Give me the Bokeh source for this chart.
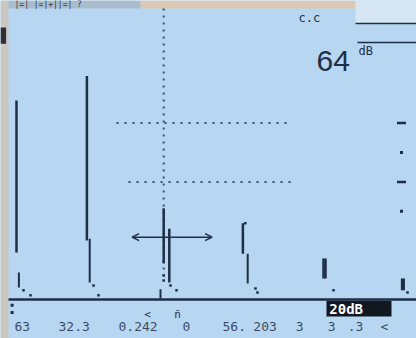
from bokeh.plotting import figure
from bokeh.models import Range1d, Arrow, OpenHead
from bokeh.core.properties import value
from bokeh.embed import file_html
from bokeh.resources import INLINE

BG = "#b6d6f2"
INK = "#1f2e46"
MONO = value("DejaVu Sans Mono")

# ---- data: A-scan (x in % of screen width, amplitude in % screen height)
echo_pos = [2.0, 19.6, 40.2, 58.6, 78.75, 79.25, 98.4, 98.8]
echo_top = [67.7, 76.0, 24.1, 25.9, 13.9, 13.9, 7.1, 7.1]
echo_bot = [16.0, 20.1, 5.8, 15.6, 7.1, 7.1, 3.1, 3.1]

tail_pos = [2.6, 20.3, 59.8]
tail_top = [9.2, 20.7, 15.6]
tail_bot = [4.1, 5.8, 5.4]

dot_x = [3.75, 5.5, 21.25, 22.5, 38.8, 38.8, 40.5, 42.0, 61.75, 62.25, 59.2, 81.25, 99.75]
dot_y = [3.1, 1.4, 4.8, 1.4, 8.2, 6.5, 4.8, 3.1, 3.7, 2.4, 25.9, 3.1, 2.4]

# gate / cursor
gate_x = 38.8
gate_level = 21.2
gate_start = 30.9
gate_end = 50.9
gate_vtop = 31.0
gate_vbot = 12.2
gate_bar_bot = 0.3
gate_bar_top = 3.5
gate_bar_x = 38.0

# dotted reference levels
ref_levels = [60.0, 40.0]
ref_start = [27.0, 30.0]
ref_end = [70.5, 70.5]

# right amplitude scale marks
scale_dash = [60.0, 40.0]
scale_dot = [50.0, 30.0]

# readouts
gain_value = "64"
gain_unit = "dB"
top_label = "c.c"
menu_label = "|=|  |=|+||=|  ?"
bottom_labels = ["63", "32.3", "0.242", "0", "56.", "203", "3", "3", ".3", "<"]
bottom_label_x = [1.5, 12.5, 27.5, 43.5, 53.5, 61.2, 71.8, 79.8, 84.8, 93.0]
zoom_label = "20dB"

Y_TOP = 101.7
Y_BOT = -13.27

p = figure(width=416, height=338, output_backend="svg", toolbar_location=None,
           x_range=Range1d(-2, 102), y_range=Range1d(Y_BOT, Y_TOP),
           min_border=0, background_fill_color=BG, border_fill_color=BG,
           outline_line_color=None)
p.axis.visible = False
p.grid.visible = False

# instrument frame around the screen
p.quad(left=[-2], right=[0], bottom=[Y_BOT], top=[Y_TOP], fill_color="#cbc6bf", line_color=None)
p.quad(left=[-2], right=[-0.6], bottom=[87.0], top=[92.5], fill_color="#2a2f38", line_color=None)
p.quad(left=[0], right=[33], bottom=[99.0], top=[Y_TOP], fill_color="#a9bccb", line_color=None)
p.quad(left=[33], right=[86.75], bottom=[99.0], top=[Y_TOP], fill_color="#ddc9b3", line_color=None)
p.quad(left=[86.75], right=[102], bottom=[93.9], top=[Y_TOP], fill_color="#d6e6f2", line_color=None)
p.text(x=[1.5], y=[100.3], text=[menu_label], text_font=MONO, text_font_size="8px",
       text_color="#2a3140", text_baseline="middle")

# dotted reference lines
p.segment(x0=ref_start, x1=ref_end, y0=ref_levels, y1=ref_levels,
          line_color=INK, line_width=2, line_dash="2 6", line_alpha=0.8)
p.segment(x0=[gate_x], x1=[gate_x], y0=[99], y1=[8], line_color=INK,
          line_width=2, line_dash="2 5", line_alpha=0.8)

# right-hand scale marks
p.scatter(x=[98.25] * len(scale_dash), y=scale_dash, marker="dash", size=9,
          line_color=INK, line_width=2.5)
p.scatter(x=[98.25] * len(scale_dot), y=scale_dot, marker="square", size=3,
          fill_color=INK, line_color=None)

# baseline
p.segment(x0=[0], x1=[102], y0=[0], y1=[0], line_color=INK, line_width=2.5)

# echoes
p.segment(x0=echo_pos, x1=echo_pos, y0=echo_bot, y1=echo_top, line_color=INK, line_width=2.5)
p.segment(x0=tail_pos, x1=tail_pos, y0=tail_bot, y1=tail_top, line_color=INK, line_width=2)
p.scatter(x=dot_x, y=dot_y, marker="square", size=2.5, fill_color=INK, line_color=None)

# gate crosshair
p.segment(x0=[gate_x], x1=[gate_x], y0=[gate_vbot], y1=[gate_vtop], line_color=INK, line_width=2.5)
p.segment(x0=[gate_bar_x], x1=[gate_bar_x], y0=[gate_bar_bot], y1=[gate_bar_top], line_color=INK, line_width=2)
p.add_layout(Arrow(end=OpenHead(size=7, line_color=INK, line_width=1.5),
                   x_start=gate_x, y_start=gate_level, x_end=gate_start, y_end=gate_level,
                   line_color=INK, line_width=1.5))
p.add_layout(Arrow(end=OpenHead(size=7, line_color=INK, line_width=1.5),
                   x_start=gate_x, y_start=gate_level, x_end=gate_end, y_end=gate_level,
                   line_color=INK, line_width=1.5))

# marks below baseline
p.scatter(x=[0.9, 0.9], y=[-2.0, -4.4], marker="square", size=3, fill_color=INK, line_color=None)
p.text(x=[34.75, 42.25], y=[-5.1, -5.1], text=["<", "ñ"], text_font=MONO,
       text_font_size="11px", text_color=INK, text_align="center", text_baseline="middle")

# zoom box
p.quad(left=[79.5], right=[95.75], bottom=[-5.8], top=[-0.4], fill_color="#111820", line_color=None)
p.text(x=[80.2], y=[-3.1], text=[zoom_label], text_font=MONO, text_font_style="bold",
       text_font_size="14px", text_color="white", text_baseline="middle")

# bottom readouts
p.text(x=bottom_label_x, y=[-9.2] * len(bottom_labels), text=bottom_labels, text_font=MONO,
       text_font_size="13px", text_color=INK, text_alpha=0.85, text_baseline="middle")

# top-right readouts
p.text(x=[72.5], y=[95.6], text=[top_label], text_font=MONO, text_font_size="12px",
       text_color=INK, text_baseline="middle")
p.segment(x0=[86.75, 87.25], x1=[102, 102], y0=[93.9, 87.4], y1=[93.9, 87.4],
          line_color=INK, line_width=1.5)
p.text(x=[77.0], y=[81.0], text=[gain_value], text_font=value("Liberation Sans"),
       text_font_size="30px", text_color=INK, text_baseline="alphabetic")
p.text(x=[87.5], y=[84.5], text=[gain_unit], text_font=MONO, text_font_size="12px",
       text_color=INK, text_baseline="middle")

open("out.html", "w").write(file_html(p, INLINE))
